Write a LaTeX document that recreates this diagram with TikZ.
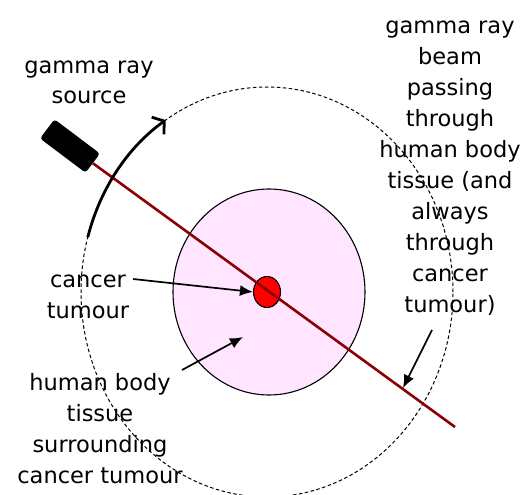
\documentclass[tikz,border=0pt]{standalone}
\usepackage{fontspec}
\setmainfont{DejaVu Sans}
\usetikzlibrary{arrows.meta,shapes.geometric}
\definecolor{tissuepink}{RGB}{255,229,255}
\definecolor{beamred}{RGB}{139,0,0}
\tikzset{
  lbl/.style={align=center, inner sep=0pt, anchor=base, font=\fontsize{22.5}{31}\selectfont},
  pointer/.style={line width=1.7pt, -{Latex[length=13pt,width=11pt]}},
}
\begin{document}
\begin{tikzpicture}[x=1pt,y=-1pt]
\useasboundingbox (0,0) rectangle (523,495);
% orbit of the source
\node[ellipse, draw, dashed, dash pattern=on 3.5pt off 2.5pt, line width=1pt, inner sep=0pt,
      minimum width=372pt, minimum height=410pt] (orbit) at (267,292) {};
% tissue and tumour
\node[ellipse, draw, fill=tissuepink, line width=1.1pt, inner sep=0pt,
      minimum width=192pt, minimum height=206pt] (tissue) at (269,292) {};
\node[ellipse, draw, fill=red, line width=1.1pt, inner sep=0pt,
      minimum width=27pt, minimum height=31pt] (tumour) at (267,292) {};
% source box and beam
\node[rectangle, fill=black, rounded corners=3pt, inner sep=0pt,
      minimum width=57pt, minimum height=24pt, rotate=-37] (source) at (70,146) {};
\coordinate (beamend) at (455,427);
\draw[beamred, line width=2.6pt] (source.east) -- (beamend);
% motion arrow along the orbit
\coordinate (motionstart) at (87.8,237.2);
\draw[line width=2.8pt, -{Straight Barb[length=8pt,width=21pt,line width=2.8pt]}]
  (motionstart) arc[start angle=164.5, end angle=123, x radius=186pt, y radius=205pt];
% labels (anchored at the baseline of the last line)
\node[lbl] (srclbl) at (89,104) {gamma ray\\source};
\node[lbl] (beamlbl) at (450,312) {gamma ray\\beam\\passing\\through\\human body\\tissue (and\\always\\through\\cancer\\tumour)};
\node[lbl] (tumlbl) at (88,318) {cancer\\tumour};
\node[lbl] (tisslbl) at (100,483) {human body\\tissue\\surrounding\\cancer tumour};
% pointers
\coordinate (tumfrom) at (133,279);
\coordinate (tissfrom) at (182,370);
\coordinate (tissto) at (243,337);
\coordinate (beamfrom) at (432,330);
\coordinate (beamto) at (403,388);
\draw[pointer] (tumfrom) -- (tumour.west);
\draw[pointer] (tissfrom) -- (tissto);
\draw[pointer] (beamfrom) -- (beamto);
\end{tikzpicture}
\end{document}
